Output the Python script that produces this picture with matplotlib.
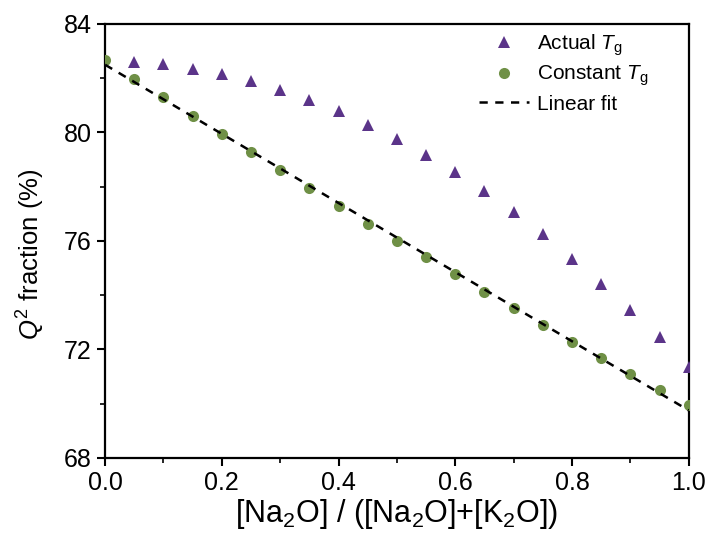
import numpy as np
import matplotlib
matplotlib.use("Agg")
import matplotlib.pyplot as plt
from matplotlib.ticker import MultipleLocator

plt.rcParams['font.family'] = ['Liberation Sans', 'DejaVu Sans']
plt.rcParams['mathtext.fontset'] = 'custom'
plt.rcParams['mathtext.rm'] = 'Liberation Sans'
plt.rcParams['mathtext.it'] = 'Liberation Sans:italic'

# Na2O fraction and Q2 fractions (%)
x_actual = [0.05, 0.10, 0.15, 0.20, 0.25, 0.30, 0.35, 0.40, 0.45, 0.50,
            0.55, 0.60, 0.65, 0.70, 0.75, 0.80, 0.85, 0.90, 0.95, 1.00]
q2_actual = [82.60, 82.53, 82.34, 82.16, 81.90, 81.57, 81.20, 80.79, 80.28, 79.76,
             79.17, 78.54, 77.84, 77.07, 76.26, 75.34, 74.41, 73.46, 72.46, 71.35]

x_const = [0.00, 0.05, 0.10, 0.15, 0.20, 0.25, 0.30, 0.35, 0.40, 0.45, 0.50,
           0.55, 0.60, 0.65, 0.70, 0.75, 0.80, 0.85, 0.90, 0.95, 1.00]
q2_const = [82.67, 81.97, 81.31, 80.61, 79.94, 79.28, 78.62, 77.95, 77.29, 76.63, 76.00,
            75.41, 74.78, 74.12, 73.53, 72.90, 72.28, 71.69, 71.10, 70.51, 69.95]

purple = "#5B3489"
green = "#6F9046"

# linear fit of the constant-Tg series
slope, intercept = np.polyfit(x_const, q2_const, 1)
x_fit = np.array([0.0, 1.0])
y_fit = slope * x_fit + intercept

fig = plt.figure(figsize=(7.1, 5.4), dpi=100)
ax = fig.add_axes([0.148, 0.152, 0.822, 0.804])

ax.plot(x_actual, q2_actual, linestyle='none', marker='^', markersize=9,
        color=purple, markeredgewidth=0, label=r'Actual $T_\mathrm{g}$', zorder=3)
ax.plot(x_const, q2_const, linestyle='none', marker='o', markersize=8,
        color=green, markeredgewidth=0, label=r'Constant $T_\mathrm{g}$', zorder=4)
ax.plot(x_fit, y_fit, linestyle='--', color='black', linewidth=1.8,
        dashes=(3.3, 3), label='Linear fit', zorder=5)

ax.set_xlim(0, 1.0)
ax.set_ylim(68, 84)
ax.xaxis.set_major_locator(MultipleLocator(0.2))
ax.xaxis.set_minor_locator(MultipleLocator(0.1))
ax.yaxis.set_major_locator(MultipleLocator(4))
ax.yaxis.set_minor_locator(MultipleLocator(2))
ax.tick_params(which='major', direction='out', length=6, width=1.5, labelsize=18)
ax.tick_params(which='minor', direction='out', length=3.5, width=1.2)
for side in ax.spines.values():
    side.set_linewidth(1.6)

ax.set_xlabel(r'[Na$_2$O] / ([Na$_2$O]+[K$_2$O])', fontsize=22, labelpad=1)
ax.set_ylabel(r'$Q^2$ fraction (%)', fontsize=18.5)
ax.yaxis.set_label_coords(-0.1, 0.47)

ax.legend(loc='upper left', bbox_to_anchor=(0.627, 1.0), frameon=False,
          fontsize=15, handlelength=2.4, handletextpad=0.35,
          labelspacing=0.3, borderaxespad=0.0)

fig.savefig("out.png", dpi=100)
